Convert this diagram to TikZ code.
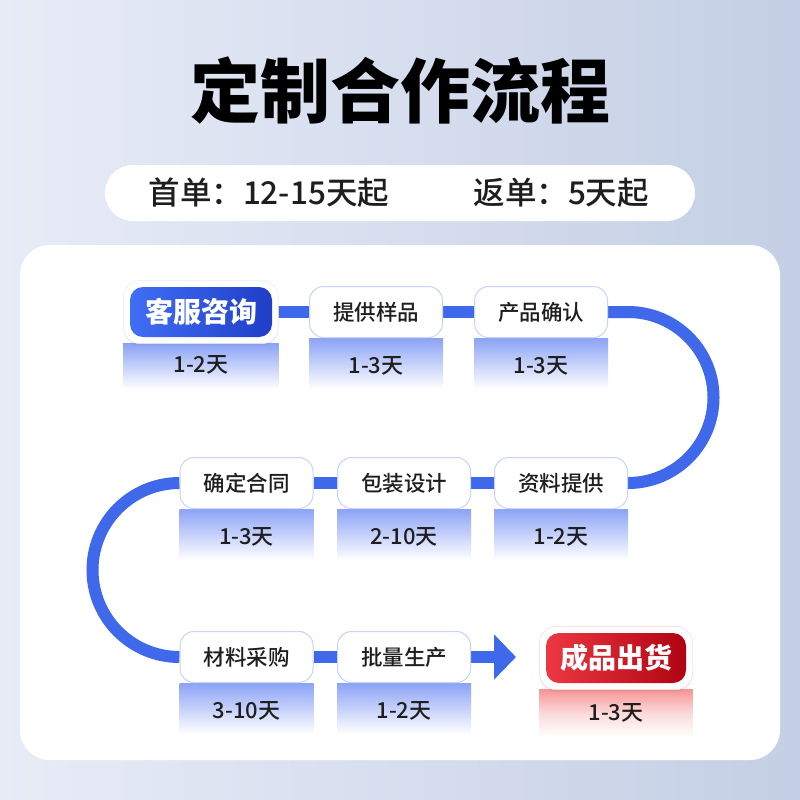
\documentclass[tikz,border=0pt]{standalone}
\usepackage{fontspec}
\setmainfont{Noto Sans CJK SC}
\newfontfamily\medfont{Noto Sans CJK SC Medium}
\usetikzlibrary{positioning,fit,arrows.meta,shadows}
\pgfdeclarelayer{back}
\pgfdeclarelayer{line}
\pgfdeclarelayer{frame}
\pgfsetlayers{back,line,frame,main}
\definecolor{flowblue}{RGB}{63,104,234}
\definecolor{boxedge}{RGB}{200,211,250}
\definecolor{stripblue}{RGB}{140,163,246}
\definecolor{stripred}{RGB}{246,150,150}
\definecolor{deepblue}{RGB}{32,62,200}
\definecolor{liteblue}{RGB}{64,110,245}
\definecolor{litered}{RGB}{236,56,66}
\definecolor{deepred}{RGB}{176,4,18}
\definecolor{bgleft}{RGB}{232,236,247}
\definecolor{bgright}{RGB}{196,207,229}
\definecolor{ink}{RGB}{30,30,30}
\begin{document}
\begin{tikzpicture}[x=1pt, y=-1pt,
    stepbox/.style={draw=boxedge, line width=1pt, fill=white, rounded corners=14pt, minimum width=133pt, minimum height=51pt, inner sep=0pt, text=ink, font=\fontsize{21.5}{21.5}\selectfont\medfont},
    bluebox/.style={rounded corners=13pt, minimum width=142pt, minimum height=50pt, inner sep=0pt, text=white, font=\fontsize{28}{28}\selectfont\bfseries, left color=liteblue, right color=deepblue},
    redbox/.style={bluebox, minimum width=140pt, left color=litered, right color=deepred},
    framebox/.style={fill=white, draw=boxedge!50, rounded corners=17pt, inner sep=6.5pt, drop shadow={opacity=0.12, shadow xshift=0pt, shadow yshift=-2pt}},
    daytext/.style={text=ink, font=\fontsize{22}{22}\selectfont\medfont, inner sep=0pt},
    strip/.style={top color=stripblue, middle color=stripblue!35, bottom color=white},
    flow/.style={draw=flowblue, line width=12pt}]
  \useasboundingbox (0,0) rectangle (800,800);
  \node[font=\fontsize{70}{70}\selectfont\bfseries, text=black] (title) at (400,90) {定制合作流程};
  \node[anchor=west, font=\fontsize{31.5}{31.5}\selectfont\medfont, text=ink] (first) at (145,193) {首单：12-15天起};
  \node[anchor=west, font=\fontsize{31.5}{31.5}\selectfont\medfont, text=ink] (again) at (470,193) {返单：5天起};
  % row 1
  \node[bluebox] (kf) at (201,312) {客服咨询};
  \node[stepbox] (tg) at (376,312) {提供样品};
  \node[stepbox] (cq) at (541,312) {产品确认};
  % row 2
  \node[stepbox] (zl) at (561,483) {资料提供};
  \node[stepbox] (bz) at (404,483) {包装设计};
  \node[stepbox] (qd) at (246.5,483) {确定合同};
  % row 3
  \node[stepbox] (cl) at (246.5,657) {材料采购};
  \node[stepbox] (pl) at (404,657) {批量生产};
  \node[redbox] (cp) at (616,658) {成品出货};
  \coordinate (tip) at (516,657);
  \begin{pgfonlayer}{frame}
    \node[framebox, fit=(kf)] (kfframe) {};
    \node[framebox, draw=stripred!40, fit=(cp)] (cpframe) {};
  \end{pgfonlayer}
  \node[daytext] (kfday) at ([yshift=-28pt]kf.south) {1-2天};
  \node[daytext] (tgday) at ([yshift=-28pt]tg.south) {1-3天};
  \node[daytext] (cqday) at ([yshift=-28pt]cq.south) {1-3天};
  \node[daytext] (qdday) at ([yshift=-28pt]qd.south) {1-3天};
  \node[daytext] (bzday) at ([yshift=-28pt]bz.south) {2-10天};
  \node[daytext] (zlday) at ([yshift=-28pt]zl.south) {1-2天};
  \node[daytext] (clday) at ([yshift=-28pt]cl.south) {3-10天};
  \node[daytext] (plday) at ([yshift=-28pt]pl.south) {1-2天};
  \node[daytext] (cpday) at ([yshift=-30pt]cp.south) {1-3天};
  \begin{pgfonlayer}{line}
    \draw[flow] (kf.east) -- (tg.west) (tg.east) -- (cq.west);
    \draw[flow] (cq.east) -- ++(20,0) arc[start angle=90, end angle=-90, radius=85.5pt] -- (zl.east);
    \draw[flow] (zl.west) -- (bz.east) (bz.west) -- (qd.east);
    \draw[flow] (qd.west) arc[start angle=90, end angle=270, radius=87pt] -- (cl.west);
    \draw[flow] (cl.east) -- (pl.west);
    \draw[flow, -{Triangle[width=44pt,length=22pt]}] (pl.east) -- (tip);
  \end{pgfonlayer}
  \begin{pgfonlayer}{back}
    \shade[left color=bgleft, right color=bgright] (0,0) rectangle (800,800);
    \fill[white, rounded corners=28pt] (105,165) rectangle (695,221);
    \fill[white, rounded corners=30pt] (20,245) rectangle (780,760);
    \shade[strip] (kfframe.south west) rectangle ([yshift=-45pt]kfframe.south east);
    \foreach \b in {tg,cq,qd,bz,zl,cl,pl}
      \shade[strip] (\b.south west) rectangle ([yshift=-51pt]\b.south east);
    \shade[strip, top color=stripred, middle color=stripred!35] (cpframe.south west) rectangle ([yshift=-47pt]cpframe.south east);
  \end{pgfonlayer}
\end{tikzpicture}
\end{document}
